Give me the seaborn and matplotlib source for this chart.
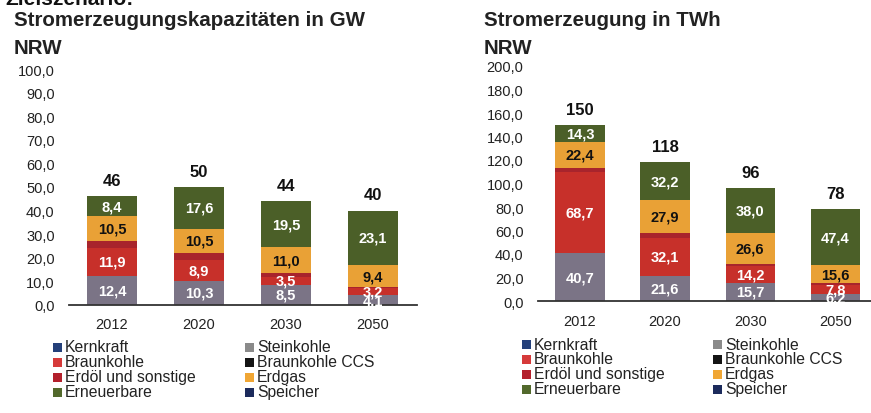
import numpy as np
import matplotlib
matplotlib.use("Agg")
import matplotlib.pyplot as plt
from matplotlib.patches import Rectangle
from matplotlib.ticker import FuncFormatter, MultipleLocator
import seaborn as sns

sns.set_theme(style="white")
plt.rcParams['font.family'] = ['Liberation Sans', 'DejaVu Sans']

years = ["2012", "2020", "2030", "2050"]

# Capacities (GW)
cap_stein = [12.4, 10.3, 8.5, 4.1]
cap_braun = [11.9, 8.9, 3.5, 3.2]
cap_oel = [2.8, 2.7, 1.5, 0.2]
cap_gas = [10.5, 10.5, 11.0, 9.4]
cap_ee = [8.4, 17.6, 19.5, 23.1]
cap_total = [46, 50, 44, 40]

# Generation (TWh)
gen_stein = [40.7, 21.6, 15.7, 6.2]
gen_braun = [68.7, 32.1, 14.2, 7.8]
gen_oel = [3.9, 4.2, 1.5, 1.0]
gen_gas = [22.4, 27.9, 26.6, 15.6]
gen_ee = [14.3, 32.2, 38.0, 47.4]
gen_total = [150, 118, 96, 78]

legend_left = ["Kernkraft", "Braunkohle", "Erdöl und sonstige", "Erneuerbare"]
legend_right = ["Steinkohle", "Braunkohle CCS", "Erdgas", "Speicher"]
legend_left_colors = ["#24407a", "#d63a3a", "#b3202c", "#52692c"]
legend_right_colors = ["#8a8a8a", "#141414", "#f0a634", "#1c2b5c"]

C_STEIN = "#7b7486"
C_BRAUN = "#c7302a"
C_OEL = "#a8242c"
C_GAS = "#e9a136"
C_EE = "#4b5f28"

W, H = 871, 414
fig = plt.figure(figsize=(W / 100, H / 100), dpi=100)
fig.patch.set_facecolor("white")


def fx(px):
    return px / W


def fy(py):
    return 1 - py / H


def comma(v, pos=None):
    return f"{v:.1f}".replace(".", ",")


def draw_panel(ax, layers, totals, ymax, ystep, labelled):
    cum = np.cumsum(np.array([l[0] for l in layers]), axis=0)
    # draw from top layer down so lower layers overwrite
    for k in range(len(layers) - 1, -1, -1):
        sns.barplot(x=years, y=cum[k], order=years, color=layers[k][1],
                    saturation=1, width=0.58, ax=ax, edgecolor="none")
    for k, (vals, col, tcol) in enumerate(layers):
        if not labelled[k]:
            continue
        for i, v in enumerate(vals):
            base = cum[k][i] - v
            ax.text(i, base + v / 2, comma(v), ha="center", va="center",
                    fontsize=10.5, fontweight="bold", color=tcol)
    for i, t in enumerate(totals):
        ax.text(i, cum[-1][i] + ymax * 0.035, str(t), ha="center", va="bottom",
                fontsize=12, fontweight="bold", color="#111111")
    ax.set_ylim(0, ymax)
    ax.yaxis.set_major_locator(MultipleLocator(ystep))
    ax.yaxis.set_major_formatter(FuncFormatter(comma))
    for s in ["left", "right", "top"]:
        ax.spines[s].set_visible(False)
    ax.spines["bottom"].set_color("#333333")
    ax.spines["bottom"].set_linewidth(1.3)
    ax.tick_params(axis="y", labelsize=10.5, pad=10, length=0, colors="#222222")
    ax.tick_params(axis="x", labelsize=10.5, pad=9, length=0, colors="#222222")
    ax.set_xlabel("")
    ax.set_ylabel("")
    ax.set_facecolor("white")
    ax.grid(False)


# left panel
axL = fig.add_axes([fx(68.5), 1 - 306 / H, fx(348), 236 / H])
layersL = [(cap_stein, C_STEIN, "white"), (cap_braun, C_BRAUN, "white"),
           (cap_oel, C_OEL, "white"), (cap_gas, C_GAS, "#111111"),
           (cap_ee, C_EE, "white")]
draw_panel(axL, layersL, cap_total, 100, 10, [True, True, False, True, True])
axL.set_xlim(-0.5, 3.5)

# right panel
axR = fig.add_axes([fx(537.5), 1 - 302 / H, fx(333.5), 235 / H])
layersR = [(gen_stein, C_STEIN, "white"), (gen_braun, C_BRAUN, "white"),
           (gen_oel, C_OEL, "white"), (gen_gas, C_GAS, "#111111"),
           (gen_ee, C_EE, "white")]
draw_panel(axR, layersR, gen_total, 200, 20, [True, True, False, True, True])
axR.set_xlim(-0.5, 3.42)

# titles
fig.text(fx(5), fy(5), "Zielszenario:", fontsize=15, fontweight="bold",
         va="baseline", ha="left", color="#111111")
fig.text(fx(14), fy(21), "Stromerzeugungskapazitäten in GW", fontsize=14.8,
         fontweight="bold", va="center", ha="left", color="#222222")
fig.text(fx(14), fy(48), "NRW", fontsize=14.8, fontweight="bold",
         va="center", ha="left", color="#222222")
fig.text(fx(484), fy(21), "Stromerzeugung in TWh", fontsize=14.8,
         fontweight="bold", va="center", ha="left", color="#222222")
fig.text(fx(484), fy(48), "NRW", fontsize=14.8, fontweight="bold",
         va="center", ha="left", color="#222222")


def legend(x1, x2, ys):
    for col_x, names, cols in [(x1, legend_left, legend_left_colors),
                               (x2, legend_right, legend_right_colors)]:
        for name, c, y in zip(names, cols, ys):
            fig.patches.append(Rectangle((fx(col_x), fy(y + 4.5)), fx(9), 9 / H,
                                         transform=fig.transFigure,
                                         facecolor=c, edgecolor="none"))
            fig.text(fx(col_x + 12), fy(y), name, fontsize=11.3, va="center",
                     ha="left", color="#222222")


legend(53, 245, [348, 363, 378, 393])
legend(522, 713, [345, 360, 375, 390])

fig.savefig("out.png", dpi=100, facecolor="white")
